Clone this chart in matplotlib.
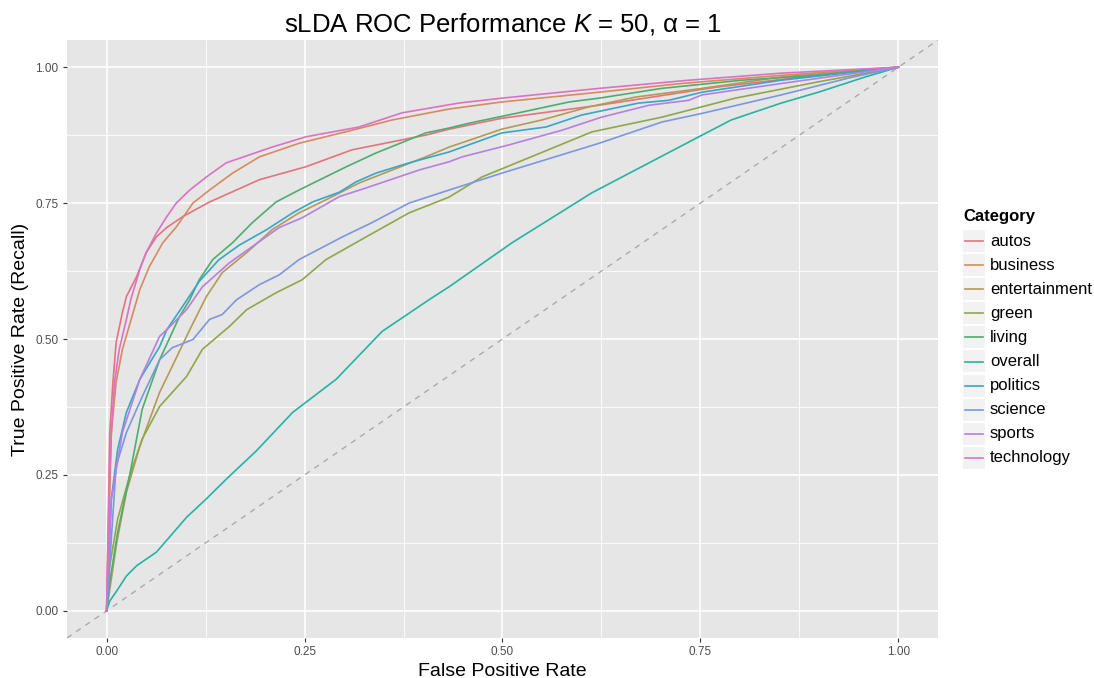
import matplotlib
matplotlib.use("Agg")
import matplotlib.pyplot as plt
from matplotlib.patches import Rectangle
from matplotlib.lines import Line2D
import numpy as np

plt.rcParams['font.family'] = ['Liberation Sans', 'DejaVu Sans']
plt.rcParams['mathtext.fontset'] = 'custom'
plt.rcParams['mathtext.it'] = 'Liberation Sans:italic'
plt.rcParams['mathtext.rm'] = 'Liberation Sans'

categories = ['autos', 'business', 'entertainment', 'green', 'living',
              'overall', 'politics', 'science', 'sports', 'technology']
colors = ['#E3747F', '#D98A5E', '#B59A55', '#8FA748', '#4CAE6E',
          '#25B3A3', '#36A6C9', '#7B97E0', '#B77FE0', '#DB72C4']

fpr_autos = [0, 0.004, 0.008, 0.012, 0.020, 0.025, 0.038, 0.050, 0.063, 0.076, 0.096, 0.130,
             0.193, 0.252, 0.310, 0.403, 0.4325, 0.499, 0.622, 0.769, 0.895, 1]
tpr_autos = [0, 0.328, 0.420, 0.493, 0.549, 0.578, 0.615, 0.659, 0.688, 0.705, 0.725, 0.752,
             0.793, 0.817, 0.848, 0.875, 0.886, 0.906, 0.930, 0.963, 0.985, 1]

fpr_business = [0, 0.006, 0.012, 0.020, 0.031, 0.042, 0.054, 0.071, 0.088, 0.109, 0.130, 0.159,
                0.193, 0.243, 0.310, 0.361, 0.4325, 0.499, 0.622, 0.726, 0.852, 1]
tpr_business = [0, 0.328, 0.420, 0.481, 0.536, 0.591, 0.633, 0.677, 0.706, 0.750, 0.774, 0.805,
                0.835, 0.860, 0.884, 0.903, 0.923, 0.936, 0.954, 0.970, 0.985, 1]

fpr_entertainment = [0, 0.013, 0.025, 0.042, 0.067, 0.083, 0.105, 0.126, 0.146, 0.177, 0.209, 0.243,
                     0.277, 0.319, 0.361, 0.403, 0.4325, 0.467, 0.499, 0.550, 0.609, 0.668, 0.752, 0.852, 1]
tpr_entertainment = [0, 0.127, 0.218, 0.303, 0.402, 0.450, 0.517, 0.578, 0.622, 0.659, 0.701, 0.732,
                     0.756, 0.787, 0.811, 0.835, 0.853, 0.870, 0.886, 0.903, 0.927, 0.945, 0.961, 0.982, 1]

fpr_green = [0, 0.004, 0.014, 0.029, 0.045, 0.067, 0.101, 0.121, 0.155, 0.177, 0.214, 0.247,
             0.277, 0.328, 0.382, 0.4325, 0.474, 0.613, 0.701, 0.794, 0.895, 1]
tpr_green = [0, 0.083, 0.169, 0.248, 0.316, 0.376, 0.431, 0.481, 0.523, 0.554, 0.585, 0.609,
             0.646, 0.688, 0.732, 0.761, 0.798, 0.881, 0.908, 0.943, 0.972, 1]

fpr_living = [0, 0.004, 0.014, 0.029, 0.045, 0.067, 0.092, 0.105, 0.117, 0.134, 0.159, 0.184, 0.214,
              0.243, 0.303, 0.340, 0.403, 0.4325, 0.458, 0.517, 0.584, 0.622, 0.701, 0.802, 0.895, 1]
tpr_living = [0, 0.053, 0.145, 0.248, 0.371, 0.462, 0.541, 0.572, 0.609, 0.646, 0.677, 0.714, 0.752,
              0.774, 0.817, 0.842, 0.879, 0.888, 0.897, 0.915, 0.936, 0.943, 0.961, 0.976, 0.985, 1]

fpr_overall = [0, 0.004, 0.013, 0.025, 0.038, 0.063, 0.101, 0.126, 0.151, 0.189, 0.235, 0.29,
               0.348, 0.407, 0.4325, 0.512, 0.613, 0.748, 0.789, 0.852, 0.899, 0.958, 1]
tpr_overall = [0, 0.018, 0.037, 0.064, 0.083, 0.108, 0.172, 0.206, 0.242, 0.294, 0.365, 0.426,
               0.514, 0.572, 0.596, 0.677, 0.769, 0.872, 0.903, 0.934, 0.954, 0.982, 1]

fpr_politics = [0, 0.006, 0.014, 0.025, 0.042, 0.067, 0.076, 0.096, 0.117, 0.142, 0.168, 0.202, 0.235,
                0.260, 0.294, 0.315, 0.340, 0.382, 0.4325, 0.499, 0.555, 0.600, 0.672, 0.710, 0.752, 0.852, 1]
tpr_politics = [0, 0.206, 0.297, 0.365, 0.426, 0.486, 0.517, 0.560, 0.606, 0.646, 0.673, 0.701, 0.732,
                0.752, 0.770, 0.789, 0.805, 0.824, 0.844, 0.879, 0.890, 0.912, 0.934, 0.939, 0.954, 0.976, 1]

fpr_science = [0, 0.012, 0.025, 0.045, 0.067, 0.083, 0.109, 0.130, 0.146, 0.164, 0.193, 0.218,
               0.243, 0.298, 0.335, 0.382, 0.4325, 0.499, 0.622, 0.701, 0.752, 0.852, 0.937, 1]
tpr_science = [0, 0.266, 0.328, 0.394, 0.462, 0.484, 0.499, 0.536, 0.545, 0.572, 0.600, 0.618,
               0.646, 0.688, 0.714, 0.750, 0.774, 0.805, 0.860, 0.899, 0.915, 0.949, 0.980, 1]

fpr_sports = [0, 0.006, 0.020, 0.042, 0.067, 0.076, 0.101, 0.121, 0.155, 0.184, 0.218, 0.247,
              0.294, 0.328, 0.395, 0.4325, 0.449, 0.508, 0.575, 0.625, 0.685, 0.735, 0.752, 0.852, 1]
tpr_sports = [0, 0.206, 0.328, 0.426, 0.505, 0.517, 0.554, 0.596, 0.640, 0.670, 0.705, 0.723,
              0.762, 0.778, 0.811, 0.826, 0.835, 0.857, 0.884, 0.908, 0.930, 0.939, 0.949, 0.970, 1]

fpr_technology = [0, 0.003, 0.006, 0.010, 0.016, 0.025, 0.031, 0.042, 0.050, 0.063, 0.076, 0.088, 0.105,
                  0.126, 0.151, 0.209, 0.252, 0.319, 0.373, 0.445, 0.499, 0.622, 0.735, 0.852, 1]
tpr_technology = [0, 0.206, 0.328, 0.420, 0.481, 0.536, 0.575, 0.628, 0.659, 0.695, 0.725, 0.750, 0.774,
                  0.798, 0.824, 0.853, 0.872, 0.890, 0.916, 0.934, 0.943, 0.961, 0.976, 0.989, 1]

curves = {
    'autos': (fpr_autos, tpr_autos),
    'business': (fpr_business, tpr_business),
    'entertainment': (fpr_entertainment, tpr_entertainment),
    'green': (fpr_green, tpr_green),
    'living': (fpr_living, tpr_living),
    'overall': (fpr_overall, tpr_overall),
    'politics': (fpr_politics, tpr_politics),
    'science': (fpr_science, tpr_science),
    'sports': (fpr_sports, tpr_sports),
    'technology': (fpr_technology, tpr_technology),
}

W, H = 1094, 678
fig = plt.figure(figsize=(W / 100, H / 100), dpi=100)
ax = fig.add_axes([67 / W, 1 - 638 / H, (938 - 67) / W, (638 - 40) / H])
ax.set_facecolor('#E6E6E6')

ticks = [0, 0.25, 0.5, 0.75, 1.0]
minor = [0.125, 0.375, 0.625, 0.875]
for t in minor:
    ax.axvline(t, color='white', lw=0.6, zorder=0)
    ax.axhline(t, color='white', lw=0.6, zorder=0)
for t in ticks:
    ax.axvline(t, color='white', lw=1.2, zorder=0)
    ax.axhline(t, color='white', lw=1.2, zorder=0)

# diagonal reference
ax.axline((0, 0), (1, 1), color='#AAAAAA', lw=1.0, ls=(0, (4, 4)), zorder=1)

for name, col in zip(categories, colors):
    x, y = curves[name]
    ax.plot(x, y, color=col, lw=1.2, zorder=2)

ax.set_xlim(-0.05, 1.05)
ax.set_ylim(-0.05, 1.05)
ax.set_xticks(ticks)
ax.set_yticks(ticks)
ax.set_xticklabels(['%.2f' % t for t in ticks])
ax.set_yticklabels(['%.2f' % t for t in ticks])
ax.tick_params(axis='both', length=3, width=0.8, color='#333333',
               labelcolor='#4D4D4D', labelsize=8.5, pad=3)
for s in ax.spines.values():
    s.set_visible(False)

ax.set_xlabel('False Positive Rate', fontsize=14, labelpad=3)
ax.set_ylabel('True Positive Rate (Recall)', fontsize=14, labelpad=5)
ax.set_title(r'sLDA ROC Performance $K$ = 50, α = 1', fontsize=18.5, pad=6)

# legend drawn by hand, ggplot style
def fx(px):
    return px / W

def fy(py):
    return 1 - py / H

fig.text(fx(963), fy(217), 'Category', fontsize=12, fontweight='bold',
         ha='left', va='center')
for i, (name, col) in enumerate(zip(categories, colors)):
    yc = 241 + i * 24.1
    fig.patches.append(Rectangle((fx(963), fy(yc + 11)), 22 / W, 22 / H,
                                 transform=fig.transFigure, facecolor='#F2F2F2',
                                 edgecolor='none'))
    fig.lines.append(Line2D([fx(965), fx(983)], [fy(yc), fy(yc)],
                            transform=fig.transFigure, color=col, lw=1.2))
    fig.text(fx(990), fy(yc), name, fontsize=12, ha='left', va='center')

fig.savefig('out.png', dpi=100)
